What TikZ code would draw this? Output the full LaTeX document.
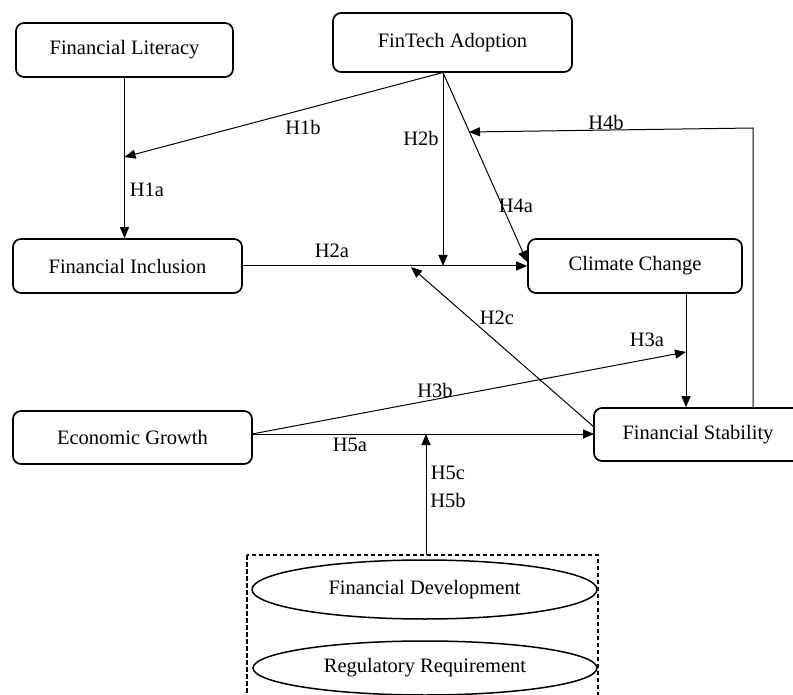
\documentclass[tikz,border=0pt]{standalone}
\usepackage{fontspec}
\setmainfont{Liberation Serif}
\usetikzlibrary{arrows.meta,shapes.geometric,calc}

\tikzset{
  construct/.style={draw, rounded corners=8pt, line width=1.7pt, inner sep=0pt,
    font=\fontsize{20.5}{24}\selectfont},
  moderator/.style={draw, ellipse, line width=1.5pt, inner sep=0pt,
    font=\fontsize{20.5}{24}\selectfont},
  link/.style={line width=1pt, -{Triangle[length=11pt,width=9pt]}},
  hyp/.style={font=\fontsize{20.5}{24}\selectfont, inner sep=0pt}
}

\begin{document}
\begin{tikzpicture}[x=1pt, y=-1pt]
  \clip (0,0) rectangle (793,695);
  \fill[white] (0,0) rectangle (793,695);

  % constructs
  \node[construct, minimum width=217pt, minimum height=54pt] (lit) at (124.5,50) {Financial Literacy};
  \node[construct, minimum width=239pt, minimum height=59pt] (fta) at (452.5,42.5) {FinTech Adoption};
  \node[construct, minimum width=229pt, minimum height=54pt] (inc) at (127.5,266) {Financial Inclusion};
  \node[construct, minimum width=214pt, minimum height=54pt] (cc) at (635,266) {Climate Change};
  \node[construct, minimum width=239pt, minimum height=53pt] (eg) at (132.5,437.5) {Economic Growth};
  \node[construct, minimum width=208pt, minimum height=53pt] (fs) at (698,434.5) {Financial Stability};

  % moderators group
  \draw[dash pattern=on 4.5pt off 2.5pt, line width=1.5pt] (247,555) rectangle (598,730);
  \coordinate (grp) at (426,555);
  \node[moderator, minimum width=345pt, minimum height=59pt] (fd) at (424.5,589.5) {Financial Development};
  \node[moderator, minimum width=344pt, minimum height=54pt] (rr) at (425,668) {Regulatory Requirement};

  % anchor points on the paths
  \coordinate (ftb) at (443,72.5);
  \coordinate (j1) at (lit.south |- 0,157);
  \coordinate (j2) at (443,266);
  \coordinate (j3) at (411,267);
  \coordinate (j4) at (686,352);
  \coordinate (j5) at (426,434);
  \coordinate (j6) at (469,132);
  \coordinate (egout) at (252,434);
  \coordinate (fsin) at (594,434);
  \coordinate (fscorner) at (594,427);
  \coordinate (h4top) at (753,128);
  \coordinate (h4low) at (753,408);

  % connectors
  \draw[link] (lit.south) -- (lit.south |- inc.north);
  \draw[link] (ftb) -- (j1);
  \draw[link] (ftb) -- (j2);
  \draw[link] (ftb) -- ($(cc.west)+(0,-4)$);
  \draw[link] (inc.east) -- (cc.west);
  \draw[link] (h4low) -- (h4top) -- (j6);
  \draw[link] (fscorner) -- (j3);
  \draw[link] (cc.south -| j4) -- (fs.north -| j4);
  \draw[link] (egout) -- (j4);
  \draw[link] (egout) -- (fsin);
  \draw[link] (grp) -- (j5);

  % hypothesis labels
  \node[hyp] (l1b) at (303,127) {H1b};
  \node[hyp] (l1a) at (147,190) {H1a};
  \node[hyp] (l2b) at (421,138) {H2b};
  \node[hyp] (l4a) at (516,206) {H4a};
  \node[hyp] (l4b) at (606,122) {H4b};
  \node[hyp] (l2a) at (332,251) {H2a};
  \node[hyp] (l2c) at (497,318) {H2c};
  \node[hyp] (l3a) at (647,340) {H3a};
  \node[hyp] (l3b) at (435,390) {H3b};
  \node[hyp] (l5a) at (350,445) {H5a};
  \node[hyp] (l5c) at (448,473) {H5c};
  \node[hyp] (l5b) at (448,500) {H5b};
\end{tikzpicture}
\end{document}
